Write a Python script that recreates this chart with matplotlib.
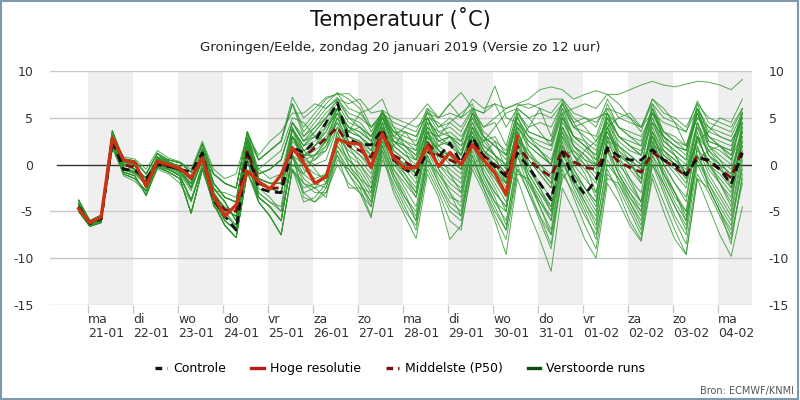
import matplotlib
matplotlib.use("Agg")
import matplotlib.pyplot as plt
from matplotlib.patches import Rectangle
from matplotlib.lines import Line2D
import numpy as np

plt.rcParams['font.family'] = ['DejaVu Sans']

# ---------------- data ----------------
# time steps: hours relative to 21-01 00:00 (local), 6-hourly
hours = [-5 + 6 * k for k in range(60)]
day_labels = ["ma\n21-01", "di\n22-01", "wo\n23-01", "do\n24-01", "vr\n25-01",
              "za\n26-01", "zo\n27-01", "ma\n28-01", "di\n29-01", "wo\n30-01",
              "do\n31-01", "vr\n01-02", "za\n02-02", "zo\n03-02", "ma\n04-02"]

controle = [-4.5, -6.3, -5.8, 2.5, -0.5, -0.6, -1.5, 0.0, -0.2, -0.5, -0.8, 1.25,
            -3.8, -5.5, -7.0, 1.2, -2.5, -2.9, -3.0, 1.8, 1.3, 2.5, 4.5, 6.6,
            2.7, 2.2, 2.1, 3.75, 0.5, -0.5, -1.1, 1.4, 0.8, 2.3, 0.2, 2.9,
            0.9, -0.2, -1.25, 1.25, -0.3, -2.0, -3.75, 1.4, -1.6, -3.2, -1.6, 1.8,
            0.9, 0.5, 0.5, 1.6, 0.5, 0.0, -1.1, 0.7, 0.5, -0.5, -2.1, 1.25]

hoge_resolutie = [-4.7, -6.2, -5.6, 2.9, 0.5, 0.2, -2.3, 0.35, 0.0, -0.4, -1.4, 0.7,
                  -3.4, -5.5, -4.3, -0.7, -1.8, -2.6, -1.1, 1.8, 0.2, -2.0, -1.3, 2.7,
                  2.3, 2.2, -0.3, 3.3, 0.7, -0.4, -0.3, 2.0, -0.2, 1.3, 0.0, 2.1,
                  0.5, -0.9, -3.2, 3.0]

middelste = [-4.6, -6.2, -5.8, 2.6, 0.0, -0.3, -1.8, 0.3, -0.2, -0.5, -1.5, 0.8,
             -3.5, -4.8, -5.0, 1.5, -2.0, -2.5, -2.5, 1.5, 0.8, 1.8, 2.8, 4.0,
             2.0, 1.5, 0.8, 3.5, 1.0, 0.3, -0.5, 2.3, 1.0, 0.5, 0.0, 2.5,
             1.0, 0.0, -1.0, 2.0, 0.5, -0.5, -1.3, 1.6, 0.3, -0.3, -0.5, 1.6,
             0.3, -0.3, -0.8, 1.3, 0.5, -0.3, -1.25, 1.0, 0.3, -0.5, -1.4, 1.6]

m01 = [-4.5,-6.3,-5.9,2.5, -0.5,-0.8,-1.8,0.3, -0.2,-0.6,-1.5,1.0, -3.0,-4.8,-5.5,2.0, -2.0,-2.5,-3.0,3.0,
       1.5,2.0,3.0,5.5, 3.0,2.5,1.5,4.5, 1.0,0.0,-1.0,3.0, 1.5,1.0,0.5,3.5, 1.0,0.0,-1.5,3.0,
       1.0,0.0,-1.0,4.0, 1.5,0.5,0.0,3.5, 1.0,0.5,-0.5,3.0, 1.0,0.0,-1.0,2.5, 0.5,-0.5,-1.5,2.0]
m02 = [-4.2,-6.1,-5.6,3.2, 0.3,0.0,-2.5,0.8, 0.3,-0.2,-2.5,0.5, -2.0,-3.5,-4.0,2.8, -1.0,-0.5,0.5,4.5,
       3.0,4.5,6.0,7.2, 5.0,4.0,3.0,5.8, 3.0,2.5,2.0,5.0, 3.0,3.5,2.5,5.5, 3.0,2.0,1.0,5.0,
       3.0,2.5,2.0,6.0, 4.0,3.5,3.0,6.5, 4.0,3.0,2.5,6.0, 3.5,3.0,2.0,5.5, 3.0,2.5,2.0,5.0]
m03 = [-4.8,-6.5,-6.1,1.8, -1.0,-1.5,-2.8,0.0, -0.5,-1.2,-3.8,-0.3, -3.8,-6.0,-7.0,0.5, -3.5,-4.5,-6.0,1.0,
       -1.0,-2.0,-2.5,2.0, 0.5,-1.0,-3.0,3.0, -0.5,-2.5,-4.5,1.5, -1.0,-2.5,-3.5,2.0, 0.0,-2.0,-4.0,1.0,
       -1.5,-3.5,-6.0,0.5, -2.0,-4.0,-6.5,0.0, -1.5,-3.5,-5.0,1.0, -1.0,-3.0,-5.5,0.5, -2.0,-4.0,-6.0,-0.5]
m04 = [-3.8,-6.0,-5.4,3.6, 0.6,0.4,-1.0,1.2, 0.5,0.2,-0.8,2.2, -1.0,-2.0,-2.5,3.5, 0.5,1.5,2.5,6.5,
       4.0,5.5,7.0,7.6, 6.0,5.5,4.0,5.5, 3.5,3.0,2.5,6.0, 4.0,5.0,4.0,6.0, 4.0,5.0,6.0,6.5,
       6.0,6.5,7.0,7.0, 5.5,5.0,4.5,6.0, 4.0,3.5,3.0,5.5, 4.5,4.0,3.5,6.0, 4.0,3.5,3.0,5.5]
m05 = [-5.0,-6.6,-6.2,2.2, -0.8,-1.2,-3.3,-0.3, -0.8,-1.5,-5.2,-0.5, -4.2,-6.5,-7.8,-0.8, -4.0,-5.5,-7.5,-0.5,
       -4.0,-3.5,-2.0,1.0, -1.0,-2.5,-5.5,0.5, -2.0,-4.5,-7.0,0.0, -2.5,-5.0,-6.0,1.0, -2.0,-4.0,-6.0,0.0,
       -3.0,-6.0,-9.0,-1.0, -3.0,-5.5,-7.5,-1.5, -2.0,-4.5,-7.0,0.0, -3.0,-6.0,-8.5,-1.0, -3.0,-5.5,-8.0,-1.5]
m06 = [-4.4,-6.2,-5.7,2.9, 0.0,-0.5,-1.4,0.6, 0.0,-0.8,-2.0,1.6, -2.5,-4.0,-6.0,2.5, -1.5,-2.0,-2.0,3.8,
       2.0,3.0,4.5,6.0, 3.5,3.0,2.0,5.0, 2.0,1.0,0.5,4.0, 2.5,3.0,1.5,4.5, 1.5,0.5,-1.0,4.0,
       2.0,1.0,0.0,5.0, 2.0,1.0,0.0,4.5, 2.5,1.5,1.0,5.0, 2.0,1.0,0.0,4.5, 1.5,0.5,-0.5,3.5]
m07 = [-4.5,-6.3,-5.9,2.5, 0.3,0.0,-2.5,0.8, -0.5,-1.2,-3.8,-0.3, -3.0,-4.8,-5.5,2.0, -3.5,-4.5,-6.0,1.0,
       0.0,-1.0,-1.5,3.0, 1.5,0.5,-1.0,4.0, 0.5,-1.0,-2.5,2.5, 0.0,-1.0,-2.0,3.0, -0.5,-2.5,-5.0,2.0,
       0.0,-2.0,-3.5,3.0, -0.5,-2.5,-4.0,2.0, -1.0,-3.0,-4.5,2.5, 0.0,-2.0,-3.5,3.0, 0.0,-1.5,-3.0,2.5]
m08 = [-4.2,-6.1,-5.6,3.2, -0.5,-0.8,-1.8,0.3, 0.5,0.2,-0.8,2.2, -2.0,-3.5,-4.0,2.8, 0.5,1.5,2.5,6.5,
       3.5,5.0,6.5,7.7, 7.0,6.0,3.5,5.5, 4.0,3.5,3.0,5.5, 5.0,6.5,5.0,6.0, 5.5,6.5,4.0,6.0,
       5.0,5.5,5.0,6.5, 4.0,3.0,2.0,5.0, 3.0,2.0,1.0,4.5, 3.0,2.0,1.5,5.0, 3.0,2.0,1.0,4.5]
m09 = [-4.8,-6.5,-6.1,1.8, -0.8,-1.2,-3.3,-0.3, -0.8,-1.5,-5.2,-0.5, -3.8,-6.0,-7.0,0.5, -4.0,-5.5,-7.5,-0.5,
       -2.0,-3.0,-3.0,0.5, -0.5,-2.0,-4.0,2.0, -1.5,-3.5,-5.5,0.5, -1.0,-3.0,-4.5,1.0, -2.5,-5.0,-7.0,-0.5,
       -2.0,-4.0,-5.5,1.0, -1.0,-3.0,-5.0,1.5, -2.0,-4.0,-6.5,0.5, -2.5,-5.5,-7.5,0.0, -2.5,-5.0,-7.0,0.0]
m10 = [-3.8,-6.0,-5.4,3.6, 0.6,0.4,-1.0,1.2, 0.3,-0.2,-2.5,0.5, -1.0,-2.0,-2.5,3.5, -1.0,-0.5,0.5,4.5,
       2.5,3.5,5.0,6.5, 4.5,4.0,3.0,5.5, 3.0,2.0,1.0,4.5, 3.5,4.0,3.0,5.0, 3.0,2.0,0.5,5.0,
       3.0,2.0,1.5,5.5, 3.0,2.5,1.5,5.5, 3.0,2.0,1.5,5.5, 3.0,2.0,1.5,5.5, 2.5,2.0,1.0,5.0]
m11 = [-4.4,-6.2,-5.7,2.9, 0.6,0.4,-1.0,1.2, 0.5,0.2,-0.8,2.2, -2.0,-3.5,-4.0,2.8, -1.5,-2.0,-2.0,3.8,
       2.0,3.5,5.0,7.0, 5.5,5.0,4.0,5.5, 4.5,4.0,3.5,6.0, 5.0,5.5,5.0,7.0, 6.0,6.5,6.0,6.5,
       7.0,8.0,8.3,8.0, 7.0,7.5,7.9,7.5, 7.5,8.0,8.5,8.9, 8.5,8.3,8.6,8.9, 8.8,8.5,8.0,9.1]
m12 = [-5.0,-6.6,-6.2,2.2, -1.0,-1.5,-2.8,0.0, -0.2,-0.6,-1.5,1.0, -4.2,-6.5,-7.8,-0.8, -2.0,-2.5,-3.0,3.0,
       1.0,1.5,2.5,5.0, 3.5,4.0,2.5,5.0, 3.0,4.0,5.0,6.5, 5.0,6.5,7.7,6.0, 5.5,8.4,5.0,4.5,
       3.0,1.5,0.0,4.0, 2.0,1.0,-0.5,4.0, 1.0,0.0,-1.5,3.5, 1.5,0.5,-0.5,4.0, 1.0,0.0,-1.0,3.0]
m13 = [-4.5,-6.3,-5.9,2.5, 0.0,-0.5,-1.4,0.6, -0.5,-1.2,-3.8,-0.3, -2.5,-4.0,-6.0,2.5, -3.5,-4.5,-6.0,1.0,
       -1.5,-2.5,-3.5,1.5, -1.0,-3.0,-5.7,1.0, -3.0,-5.5,-7.9,-1.0, -3.5,-8.0,-6.5,-0.5, -3.0,-6.0,-9.6,-1.5,
       -5.0,-8.0,-11.4,-2.5, -5.0,-8.0,-10.0,-2.0, -4.0,-6.5,-8.2,-1.5, -5.0,-8.0,-9.6,-1.5, -4.5,-7.5,-9.8,-4.5]
m14 = [-4.4,-6.2,-5.7,2.9, -0.5,-0.8,-1.8,0.3, 0.0,-0.8,-2.0,1.6, -3.0,-4.8,-5.5,2.0, -1.5,-2.0,-2.0,3.8,
       1.5,2.0,3.5,6.0, 4.0,3.5,2.5,5.5, 2.5,1.5,0.5,5.0, 2.0,2.5,1.0,5.5, 2.5,1.0,-0.5,5.5,
       3.5,3.0,2.5,6.5, 4.5,5.0,4.0,7.0, 5.0,4.5,4.0,6.5, 5.0,4.5,3.5,6.8, 4.5,4.0,3.5,6.0]
m15 = [-4.2,-6.1,-5.6,3.2, -1.0,-1.5,-2.8,0.0, -0.8,-1.5,-5.2,-0.5, -3.8,-6.0,-7.0,0.5, -3.5,-4.5,-6.0,1.0,
       -3.0,-2.5,-1.0,2.5, 0.5,-0.5,-2.5,3.0, -0.5,-2.0,-3.5,2.5, 0.0,-1.5,-2.5,3.0, -1.0,-3.5,-6.5,1.0,
       -2.5,-5.5,-8.5,-0.5, -3.5,-6.5,-9.0,-1.0, -2.5,-5.0,-7.5,0.0, -2.0,-4.5,-6.5,1.0, -1.5,-3.5,-5.5,1.0]
m16 = [-4.8,-6.5,-6.1,1.8, 0.3,0.0,-2.5,0.8, -0.2,-0.6,-1.5,1.0, -2.5,-4.0,-6.0,2.5, -2.0,-2.5,-3.0,3.0,
       1.0,1.0,2.0,4.5, 2.5,2.0,0.5,4.0, 1.5,0.5,-0.5,3.5, 1.5,1.0,0.0,4.0, 1.5,0.5,-1.0,3.5,
       0.5,-1.0,-2.5,3.5, 0.0,-1.5,-3.0,3.0, 0.5,-0.5,-2.0,4.0, 1.0,0.0,-1.5,4.5, 1.0,0.0,-1.0,4.0]
m17 = [-3.8,-6.0,-5.4,3.6, 0.0,-0.5,-1.4,0.6, 0.5,0.2,-0.8,2.2, -1.0,-2.0,-2.5,3.5, 0.5,1.5,2.5,7.2,
       5.0,6.0,7.2,7.5, 7.6,6.5,4.0,5.0, 3.5,3.5,3.0,5.5, 3.5,3.0,2.5,5.5, 4.0,4.5,2.0,6.3,
       6.5,6.0,3.0,6.8, 5.0,4.0,2.5,6.0, 5.5,5.0,4.0,7.0, 5.5,5.0,4.0,6.5, 5.0,4.5,4.0,6.0]
m18 = [-5.0,-6.6,-6.2,2.2, -0.8,-1.2,-3.3,-0.3, -0.5,-1.2,-3.8,-0.3, -4.2,-6.5,-7.8,-0.8, -4.0,-5.5,-7.5,-0.5,
       -2.5,-2.0,-1.0,2.0, 0.0,-1.5,-3.5,2.5, -1.0,-3.0,-6.0,1.0, -2.0,-4.5,-5.5,1.5, -1.5,-4.0,-5.0,2.0,
       -1.0,-3.0,-4.5,2.5, -1.5,-4.0,-6.0,2.0, -1.0,-3.5,-5.5,2.5, -1.5,-4.0,-6.0,2.0, -2.5,-5.0,-8.5,-1.0]
m19 = [-4.5,-6.3,-5.9,2.5, 0.6,0.4,-1.0,1.2, 0.0,-0.8,-2.0,1.6, -2.0,-3.5,-4.0,2.8, -1.0,-0.5,0.5,4.5,
       2.5,4.0,5.5,6.8, 5.0,4.5,3.0,5.0, 2.5,2.0,1.5,5.0, 3.0,2.0,1.0,4.5, 2.0,1.0,0.0,4.5,
       2.5,1.5,0.5,5.0, 3.0,2.0,1.0,5.5, 2.0,1.0,0.0,5.0, 2.5,1.5,0.5,5.5, 2.0,1.5,0.5,5.5]
m20 = [-4.4,-6.2,-5.7,2.9, -1.0,-1.5,-2.8,0.0, -0.8,-1.5,-5.2,-0.5, -4.2,-6.5,-7.8,-0.8, -3.5,-4.5,-6.0,1.0,
       -3.5,-4.0,-3.0,0.0, -2.0,-3.0,-4.5,1.5, -2.5,-5.0,-6.5,-0.5, -3.0,-6.0,-7.0,0.0, -2.5,-5.5,-8.0,-1.0,
       -1.5,-4.5,-7.0,0.5, -2.5,-5.0,-8.0,-0.5, -3.0,-6.0,-8.0,-1.0, -4.0,-7.0,-9.6,-1.5, -2.5,-5.0,-7.5,-2.0]
m21 = [-4.2,-6.1,-5.6,3.2, 0.0,-0.5,-1.4,0.6, 0.3,-0.2,-2.5,0.5, -3.0,-4.8,-5.5,2.0, -1.5,-2.0,-2.0,3.8,
       1.0,2.0,4.0,6.0, 3.0,2.0,1.0,5.0, 1.5,0.5,-1.0,4.5, 1.5,0.0,-1.0,4.0, 1.0,-0.5,-2.5,4.5,
       1.5,0.0,-1.5,5.5, 2.0,0.5,-1.0,5.0, 1.5,0.5,-0.5,6.0, 2.5,1.5,0.5,6.0, 2.0,1.0,0.0,5.5]
m22 = [-4.8,-6.5,-6.1,1.8, -0.5,-0.8,-1.8,0.3, -0.5,-1.2,-3.8,-0.3, -3.8,-6.0,-7.0,0.5, -2.0,-2.5,-3.0,3.0,
       0.5,0.0,0.5,4.0, 2.0,1.0,-0.5,4.5, 0.5,-0.5,-2.0,3.5, 0.5,-0.5,-1.5,3.5, 0.0,-1.5,-3.0,3.0,
       -0.5,-2.5,-4.5,2.0, -1.0,-2.5,-4.5,2.5, 0.0,-1.5,-3.0,3.0, 0.5,-1.0,-2.5,3.5, -0.5,-2.0,-4.0,2.0]
m23 = [-3.8,-6.0,-5.4,3.6, 0.3,0.0,-2.5,0.8, 0.5,0.2,-0.8,2.2, -1.0,-2.0,-2.5,3.5, 0.5,1.5,2.5,6.5,
       3.0,4.0,5.0,6.0, 4.0,3.5,2.5,5.8, 3.5,2.5,1.5,5.7, 4.0,4.5,3.5,5.8, 3.5,2.5,1.5,5.5,
       4.0,4.5,4.0,6.5, 4.0,4.5,5.0,5.5, 4.0,3.0,2.0,5.5, 3.5,2.5,2.0,6.0, 3.5,3.0,2.5,5.0]
m24 = [-5.0,-6.6,-6.2,2.2, 0.0,-0.5,-1.4,0.6, -0.2,-0.6,-1.5,1.0, -2.5,-4.0,-6.0,2.5, -1.5,-2.0,-2.0,3.8,
       0.0,0.5,2.0,5.0, 2.5,1.5,0.0,4.0, 0.0,-1.5,-3.0,3.0, -0.5,-2.0,-3.0,2.5, -1.0,-3.0,-4.5,2.5,
       -1.0,-3.0,-5.0,2.0, -0.5,-2.5,-4.0,3.0, -0.5,-2.5,-4.0,3.5, 0.0,-2.0,-4.0,3.0, 0.0,-2.0,-3.5,3.0]
m25 = [-4.5,-6.3,-5.9,2.5, -0.8,-1.2,-3.3,-0.3, -0.8,-1.5,-5.2,-0.5, -4.2,-6.5,-7.8,-0.8, -3.5,-4.5,-6.0,1.0,
       -2.0,-2.5,-2.0,1.5, -0.5,-2.0,-4.5,1.5, -1.5,-4.0,-6.0,0.5, -2.0,-4.0,-5.0,0.5, -2.0,-4.5,-7.0,-0.5,
       -3.0,-5.5,-7.5,0.0, -2.0,-4.5,-7.0,0.5, -1.5,-4.0,-6.0,1.0, -2.0,-4.5,-7.0,1.0, -2.0,-4.5,-6.5,0.5]
m26 = [-4.4,-6.2,-5.7,2.9, 0.6,0.4,-1.0,1.2, 0.0,-0.8,-2.0,1.6, -2.0,-3.5,-4.0,2.8, -1.0,-0.5,0.5,4.5,
       2.5,3.0,4.0,5.5, 4.0,3.0,1.5,5.2, 2.0,1.0,0.0,4.0, 2.5,2.0,1.0,5.0, 2.0,1.0,0.0,5.2,
       2.0,1.0,0.0,4.5, 2.5,1.5,0.5,5.0, 3.0,2.0,1.0,6.5, 3.5,2.5,1.5,6.5, 3.0,2.0,1.5,6.0]
m27 = [-4.2,-6.1,-5.6,3.2, -0.5,-0.8,-1.8,0.3, -0.2,-0.6,-1.5,1.0, -3.0,-4.8,-5.5,2.0, -2.0,-2.5,-3.0,3.0,
       0.5,1.0,2.5,5.5, 3.0,2.5,1.0,4.5, 1.0,0.0,-1.5,3.5, 1.0,0.5,-0.5,4.0, 1.5,0.0,-2.0,3.5,
       1.0,-0.5,-2.0,4.0, 1.0,-0.5,-2.0,4.0, 1.5,0.0,-1.5,4.5, 1.5,0.0,-1.5,4.0, 1.0,-0.5,-2.0,4.5]
m28 = [-4.8,-6.5,-6.1,1.8, -1.0,-1.5,-2.8,0.0, 0.3,-0.2,-2.5,0.5, -3.8,-6.0,-7.0,0.5, -4.0,-5.5,-7.5,-0.5,
       -3.0,-4.0,-2.5,1.0, -2.5,-2.5,-3.0,2.0, -1.0,-3.5,-5.0,1.0, -1.5,-3.5,-4.0,2.0, -1.0,-3.0,-4.5,1.5,
       -1.5,-4.0,-6.0,1.5, -1.5,-3.5,-5.5,1.5, -1.0,-3.0,-5.0,2.0, -1.0,-3.5,-5.0,2.0, -1.0,-3.0,-5.0,1.5]
m29 = [-3.8,-6.0,-5.4,3.6, 0.3,0.0,-2.5,0.8, 0.0,-0.8,-2.0,1.6, -1.0,-2.0,-2.5,3.5, -1.5,-2.0,-2.0,3.8,
       2.0,2.5,3.5,6.0, 3.5,3.0,2.0,5.5, 2.5,2.0,1.0,5.0, 2.5,3.0,2.0,5.5, 3.0,2.0,1.0,5.8,
       3.5,3.0,2.5,6.0, 3.0,2.0,1.0,5.5, 3.0,2.5,2.0,6.0, 3.0,2.0,1.0,6.0, 2.5,2.0,1.5,5.5]
m30 = [-5.0,-6.6,-6.2,2.2, -0.5,-0.8,-1.8,0.3, -0.5,-1.2,-3.8,-0.3, -2.5,-4.0,-6.0,2.5, -2.0,-2.5,-3.0,3.0,
       1.0,1.0,1.5,4.0, 2.0,1.0,0.0,4.0, 1.0,0.0,-1.0,3.0, 1.5,0.5,-0.5,3.0, 0.5,-1.0,-2.0,3.0,
       0.5,-1.0,-2.5,3.0, 1.0,0.0,-1.5,3.5, 1.0,0.0,-1.0,3.5, 0.5,-0.5,-2.0,3.0, 0.0,-1.0,-2.5,2.5]
m31 = [-4.3,-6.2,-5.8,2.7, -0.3,-1.0,-2.0,0.5, 0.2,-0.3,-1.2,1.8, -2.8,-3.0,-3.5,1.5, -0.5,0.5,1.5,5.0,
       4.5,3.0,2.5,6.0, 3.5,5.5,6.0,7.0, 4.0,2.0,0.5,3.5, 3.0,4.5,5.5,6.5, 3.0,1.0,-2.0,2.0,
       4.0,6.0,5.5,7.0, 4.5,2.5,0.5,4.0, 5.0,5.5,4.0,5.5, 3.0,1.0,-1.0,2.5, 3.5,5.0,4.5,7.0]
m32 = [-4.6,-6.4,-6.0,2.0, -1.2,-1.8,-3.0,-0.5, -1.0,-2.0,-4.0,0.2, -4.5,-5.5,-6.5,1.8, -3.0,-4.0,-5.0,0.0,
       -1.0,1.0,2.5,4.5, 1.0,-1.5,-2.5,2.0, 2.0,3.5,2.0,4.0, -0.5,-3.0,-5.5,0.0, 1.0,2.5,-0.5,3.5,
       -2.0,-4.5,-7.5,-1.5, 0.0,1.5,2.5,4.5, 1.0,-1.5,-4.0,1.5, -0.5,-3.0,-6.0,0.5, 1.5,2.0,0.5,3.5]
m33 = [-4.0,-6.1,-5.5,3.0, 0.8,0.6,-0.5,1.5, 0.7,0.3,-0.5,2.5, -0.5,-1.5,-1.0,3.2, 1.0,2.5,3.5,5.5,
       5.5,6.5,6.0,7.0, 6.5,7.0,5.5,5.8, 5.0,4.5,4.0,5.0, 4.5,3.0,1.0,4.0, 2.5,4.0,5.5,6.0,
       5.0,3.5,2.0,5.5, 6.0,6.5,6.0,7.5, 6.5,5.0,3.5,7.0, 6.0,4.5,2.0,5.0, 4.0,3.0,2.5,4.5]
m34 = [-4.9,-6.5,-6.0,2.0, -0.3,-0.7,-2.2,0.2, -0.6,-1.0,-2.8,0.6, -3.5,-5.0,-6.5,1.0, -2.5,-3.5,-5.0,2.0,
       -0.5,-1.5,-1.0,3.5, 1.0,0.0,-2.0,3.5, 2.5,1.5,-1.0,2.0, 1.0,-1.0,-3.0,2.0, 2.5,3.0,1.0,4.0,
       0.0,-2.5,-5.0,1.0, 1.5,0.0,-3.0,2.5, 2.0,1.0,0.0,3.0, -1.0,-3.0,-5.0,1.5, 0.5,-2.0,-4.5,4.0]
m35 = [-4.4,-6.3,-5.8,2.6, 0.2,-0.2,-1.6,0.9, -0.4,-0.9,-2.3,1.2, -3.2,-4.5,-5.0,3.0, -0.5,-1.5,-1.0,4.0,
       1.5,0.5,1.5,5.0, 2.0,0.0,-1.5,3.0, 0.5,-1.5,-3.5,2.0, 2.0,3.0,2.0,3.5, 0.5,-1.5,-3.5,2.5,
       1.5,-0.5,-2.0,5.0, 3.0,2.0,0.0,4.0, 0.5,-2.0,-4.0,2.0, 1.5,0.5,-1.0,4.5, 2.0,0.5,-1.5,4.5]
m36 = [-4.7,-6.4,-6.0,2.3, -0.6,-1.0,-2.2,-0.2, -0.3,-0.8,-2.5,0.8, -3.3,-5.0,-6.8,1.5, -3.0,-4.0,-4.5,2.5,
       1.0,-0.5,-2.0,3.5, 0.0,-2.0,-4.0,2.5, 1.0,-1.0,-3.0,3.5, 2.0,1.0,-0.5,3.0, 1.0,-0.5,-2.0,4.0,
       2.5,1.5,0.0,3.5, 1.0,-1.0,-3.5,3.0, 2.0,0.5,-2.0,4.5, 2.0,1.0,-1.0,3.0, 1.5,0.0,-2.5,3.5]

verstoorde_runs = [m01, m02, m03, m04, m05, m06, m07, m08, m09, m10,
                   m11, m12, m13, m14, m15, m16, m17, m18, m19, m20,
                   m21, m22, m23, m24, m25, m26, m27, m28, m29, m30,
                   m31, m32, m33, m34, m35, m36]

y_ticks = [-15, -10, -5, 0, 5, 10]

# ---------------- figure ----------------
fig = plt.figure(figsize=(8, 4), dpi=100)
ax = fig.add_axes([50 / 800, 95 / 400, 702 / 800, 234 / 400])

t = np.array(hours) / 24.0
xmin, xmax = -38 / 45, 664 / 45
ax.set_xlim(xmin, xmax)
ax.set_ylim(-15, 10)

# alternating day bands
for d in range(0, 15, 2):
    ax.axvspan(d, d + 1, color='#efefef', lw=0, zorder=0)

# horizontal grid
for yv in y_ticks:
    if yv == 0:
        ax.axhline(0, xmin=7 / 702, xmax=1, color='#333333', lw=1.0, zorder=1)
    else:
        ax.axhline(yv, color='#c8c8c8', lw=1.0, zorder=1)

green = '#2c962c'
for run in verstoorde_runs:
    ax.plot(t[:len(run)], run, color=green, lw=0.7, alpha=0.8, zorder=2)

ax.plot(t[:len(middelste)], middelste, color='#7a1010', lw=2.0, ls=(0, (3, 2)), zorder=3)
ax.plot(t[:len(controle)], controle, color='#111111', lw=2.0, ls=(0, (3, 2)), zorder=4)
ax.plot(t[:len(hoge_resolutie)], hoge_resolutie, color='#cc3314', lw=2.4, zorder=5)

for s in ax.spines.values():
    s.set_visible(False)

ax.set_xticks(range(15))
ax.set_xticklabels(day_labels, fontsize=9, color='#333333', ha='left', linespacing=1.1)
ax.tick_params(axis='x', length=6, color='#c8c8c8', width=1, pad=0)
for lbl in ax.get_xticklabels():
    lbl.set_multialignment('left')

ax.set_yticks(y_ticks)
ax.set_yticklabels([str(v) for v in y_ticks], fontsize=9, color='#333333')
ax.tick_params(axis='y', length=0, pad=12, labelright=True)

# titles
fig.text(0.5, 0.953, 'Temperatuur (˚C)', ha='center', va='center', fontsize=15, color='#111111')
fig.text(0.5, 0.882, 'Groningen/Eelde, zondag 20 januari 2019 (Versie zo 12 uur)',
         ha='center', va='center', fontsize=9.5, color='#222222')

handles = [
    Line2D([], [], color='#111111', lw=2.4, ls=(0, (2, 1.5))),
    Line2D([], [], color='#b81c14', lw=2.4),
    Line2D([], [], color='#7a1010', lw=2.4, ls=(0, (2, 1.5))),
    Line2D([], [], color='#0b4d0b', lw=2.4),
]
labels = ['Controle', 'Hoge resolutie', 'Middelste (P50)', 'Verstoorde runs']
fig.legend(handles, labels, loc='center', bbox_to_anchor=(0.5, 0.078), ncol=4,
           frameon=False, fontsize=9, handlelength=1.0, handletextpad=0.5,
           columnspacing=2.0)

fig.text(0.993, 0.022, 'Bron: ECMWF/KNMI', ha='right', va='center', fontsize=7, color='#555555')

fig.patches.append(Rectangle((0.001, 0.002), 0.997, 0.995, transform=fig.transFigure,
                             fill=False, edgecolor='#8098aa', lw=1.5))

fig.savefig('out.png', dpi=100)
